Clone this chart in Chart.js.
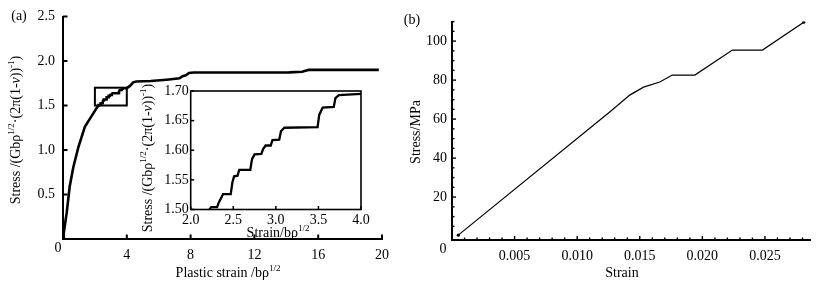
<!DOCTYPE html>
<html>
<head>
<meta charset="utf-8">
<script src="https://cdn.jsdelivr.net/npm/chart.js@4/dist/chart.umd.min.js"></script>
<style>
html,body{margin:0;padding:0;background:#fff;}
#wrap{position:relative;width:834px;height:281px;overflow:hidden;}
#wrap canvas{position:absolute;left:0;top:0;}
</style>
</head>
<body>
<div id="wrap">
<canvas id="cA" width="834" height="281"></canvas>
<canvas id="cI" width="834" height="281"></canvas>
<canvas id="cB" width="834" height="281"></canvas>
</div>
<script>
// ---------- DATA ----------
// Panel (a): stress vs plastic strain
const mainStrain = [0, 0.05, 0.12, 0.23, 0.42, 0.65, 0.96, 1.37, 1.79, 2.00, 2.10, 2.22, 2.24, 2.31, 2.33, 2.36, 2.38, 2.47, 2.49, 2.51, 2.55, 2.57, 2.70, 2.72, 2.75, 2.83, 2.85, 2.88, 2.94, 2.96, 3.04, 3.06, 3.10, 3.49, 3.51, 3.55, 3.68, 3.70, 3.74, 4.00, 4.20, 4.40, 4.60, 5.50, 6.50, 7.30, 7.50, 7.70, 7.90, 8.20, 14.2, 15.0, 15.2, 15.4, 19.8];
const mainStress = [0, 0.07, 0.16, 0.29, 0.59, 0.81, 1.03, 1.26, 1.38, 1.44, 1.47, 1.500, 1.504, 1.504, 1.512, 1.520, 1.526, 1.526, 1.546, 1.556, 1.557, 1.567, 1.567, 1.585, 1.593, 1.594, 1.602, 1.608, 1.608, 1.617, 1.618, 1.632, 1.638, 1.639, 1.660, 1.672, 1.673, 1.688, 1.693, 1.695, 1.72, 1.76, 1.77, 1.775, 1.79, 1.805, 1.83, 1.84, 1.865, 1.87, 1.872, 1.88, 1.89, 1.90, 1.90];
const aXTicks = [0, 4, 8, 12, 16, 20];
const aYTicks = [0, 0.5, 1.0, 1.5, 2.0, 2.5];
// inset zoom window (also drawn as the rectangle in the main plot)
const insetXRange = [2.0, 4.0];
const insetYRange = [1.50, 1.70];
const insetXTicks = [2.0, 2.5, 3.0, 3.5, 4.0];
const insetYTicks = [1.50, 1.55, 1.60, 1.65, 1.70];
// Panel (b): stress vs strain
const bStrain = [0.0005, 0.0126, 0.0142, 0.0153, 0.0166, 0.0176, 0.0194, 0.0224, 0.0248, 0.0281];
const bStress = [0.5, 63.6, 72.3, 76.4, 79.0, 82.6, 82.6, 95.4, 95.4, 109.7];
const bXTicks = [0.005, 0.010, 0.015, 0.020, 0.025];
const bYTicks = [20, 40, 60, 80, 100];
const bXRange = [0, 0.0286];
const bYRange = [-2, 110];
const bXMinorStep = 0.001;
const bYMinorStep = 5;

// ---------- HELPERS ----------
const FONT = "'Liberation Serif','Times New Roman',serif";
const FS = 14;
Chart.defaults.font.family = FONT;
Chart.defaults.font.size = FS;
Chart.defaults.color = '#000';

function fontFor(p, size){
  const s = p.sup ? Math.round(size*0.62) : size;
  return (p.it ? 'italic ' : '') + s + 'px ' + FONT;
}
function drawRich(ctx, parts, cx, cy, rot, size){
  ctx.save();
  ctx.translate(cx, cy);
  if (rot) ctx.rotate(-Math.PI/2);
  let w = 0;
  parts.forEach(p => { ctx.font = fontFor(p, size); w += ctx.measureText(p.t).width; });
  let x = -w/2;
  ctx.fillStyle = '#000';
  ctx.textBaseline = 'alphabetic';
  ctx.textAlign = 'left';
  parts.forEach(p => {
    ctx.font = fontFor(p, size);
    const y = p.sup ? size*0.35 - size*0.42 : size*0.35;
    ctx.fillText(p.t, x, y);
    x += ctx.measureText(p.t).width;
  });
  ctx.restore();
}
function line(ctx, x1, y1, x2, y2, w){
  ctx.beginPath(); ctx.lineWidth = w; ctx.strokeStyle = '#000';
  ctx.moveTo(x1, y1); ctx.lineTo(x2, y2); ctx.stroke();
}
const stressTitle = [
  {t:'Stress /(Gbρ'}, {t:'1/2', sup:true}, {t:'·(2π(1-'}, {t:'ν', it:true}, {t:'))'}, {t:'-1', sup:true}, {t:')'}
];

function tickOpts(pad){
  return {padding: pad, maxRotation: 0, autoSkip: false, color: '#000', font: {family: FONT, size: FS}};
}
function setTicks(arr){ return s => { s.ticks = arr.map(v => ({value: v})); }; }

// ---------- CHART (a) main ----------
new Chart(document.getElementById('cA'), {
  type: 'scatter',
  data: { datasets: [{
    data: mainStrain.map((x, i) => ({x, y: mainStress[i]})),
    showLine: true, borderColor: '#000', borderWidth: 2.6, pointRadius: 0, tension: 0, fill: false
  }]},
  options: {
    responsive: false, animation: false, devicePixelRatio: 1, events: [],
    layout: {padding: {left: 23, right: 452, top: 16.5, bottom: 12}},
    plugins: {legend: {display: false}, tooltip: {enabled: false}},
    scales: {
      x: {type: 'linear', min: aXTicks[0], max: aXTicks[aXTicks.length-1],
          afterBuildTicks: setTicks(aXTicks),
          ticks: Object.assign(tickOpts(8), {callback: v => v === 0 ? '' : String(v)}),
          grid: {display: false, drawTicks: false},
          border: {display: true, color: '#000', width: 2},
          afterFit: s => { s.height = 30; }},
      y: {type: 'linear', min: aYTicks[0], max: aYTicks[aYTicks.length-1],
          afterBuildTicks: setTicks(aYTicks),
          ticks: Object.assign(tickOpts(8), {callback: v => v === 0 ? '' : Number(v).toFixed(1)}),
          grid: {display: false, drawTicks: false},
          border: {display: true, color: '#000', width: 2},
          afterFit: s => { s.width = 40; }}
    }
  },
  plugins: [{
    id: 'decoA',
    afterDraw(chart){
      const ctx = chart.ctx, a = chart.chartArea, xs = chart.scales.x, ys = chart.scales.y;
      aXTicks.forEach(v => { if (v === 0) return; const px = xs.getPixelForValue(v); line(ctx, px, a.bottom, px, a.bottom - 4.5, 2); });
      aYTicks.forEach(v => { if (v === 0) return; const py = ys.getPixelForValue(v); line(ctx, a.left, py, a.left + 4.5, py, 2); });
      // zoom rectangle
      const x1 = xs.getPixelForValue(insetXRange[0]), x2 = xs.getPixelForValue(insetXRange[1]);
      const y1 = ys.getPixelForValue(insetYRange[1]), y2 = ys.getPixelForValue(insetYRange[0]);
      ctx.save(); ctx.lineWidth = 2; ctx.strokeStyle = '#000'; ctx.strokeRect(x1, y1, x2 - x1, y2 - y1); ctx.restore();
      // origin label, panel tag, titles
      ctx.save(); ctx.fillStyle = '#000'; ctx.font = FS + 'px ' + FONT; ctx.textAlign = 'center'; ctx.textBaseline = 'middle';
      ctx.fillText('0', 58, 248);
      ctx.fillText('(a)', 19, 16);
      ctx.restore();
      drawRich(ctx, stressTitle, 15, 130, true, FS);
      drawRich(ctx, [{t:'Plastic strain /bρ'}, {t:'1/2', sup:true}], 228, 272, false, FS);
    }
  }]
});

// ---------- CHART (a) inset ----------
new Chart(document.getElementById('cI'), {
  type: 'scatter',
  data: { datasets: [{
    data: mainStrain.map((x, i) => ({x, y: mainStress[i]})),
    showLine: true, borderColor: '#000', borderWidth: 2.3, pointRadius: 0, tension: 0, fill: false
  }]},
  options: {
    responsive: false, animation: false, devicePixelRatio: 1, events: [],
    layout: {padding: {left: 160.7, right: 473, top: 91, bottom: 51.5}},
    plugins: {legend: {display: false}, tooltip: {enabled: false}},
    scales: {
      x: {type: 'linear', min: insetXRange[0], max: insetXRange[1],
          afterBuildTicks: setTicks(insetXTicks),
          ticks: Object.assign(tickOpts(2), {callback: v => Number(v).toFixed(1)}),
          grid: {display: false, drawTicks: false},
          border: {display: false},
          afterFit: s => { s.height = 20; }},
      y: {type: 'linear', min: insetYRange[0], max: insetYRange[1],
          afterBuildTicks: setTicks(insetYTicks),
          ticks: Object.assign(tickOpts(2), {callback: v => Number(v).toFixed(2)}),
          grid: {display: false, drawTicks: false},
          border: {display: false},
          afterFit: s => { s.width = 30; }}
    }
  },
  plugins: [{
    id: 'decoI',
    afterDraw(chart){
      const ctx = chart.ctx, a = chart.chartArea, xs = chart.scales.x, ys = chart.scales.y;
      ctx.save(); ctx.lineWidth = 1.6; ctx.strokeStyle = '#000';
      ctx.strokeRect(a.left, a.top, a.right - a.left, a.bottom - a.top); ctx.restore();
      insetXTicks.forEach(v => { const px = xs.getPixelForValue(v); line(ctx, px, a.bottom, px, a.bottom - 3.5, 1.5); });
      insetYTicks.forEach(v => { const py = ys.getPixelForValue(v); line(ctx, a.left, py, a.left + 3.5, py, 1.5); });
      drawRich(ctx, stressTitle, 147, 158, true, FS);
      drawRich(ctx, [{t:'Strain/bρ'}, {t:'1/2', sup:true}], 278, 232, false, FS);
    }
  }]
});

// ---------- CHART (b) ----------
new Chart(document.getElementById('cB'), {
  type: 'scatter',
  data: { datasets: [{
    data: bStrain.map((x, i) => ({x, y: bStress[i]})),
    showLine: true, borderColor: '#000', borderWidth: 1.2, tension: 0, fill: false,
    pointRadius: c => (c.dataIndex === 0 || c.dataIndex === bStrain.length - 1) ? 1.6 : 0,
    pointBackgroundColor: '#000', pointBorderWidth: 0
  }]},
  options: {
    responsive: false, animation: false, devicePixelRatio: 1, events: [],
    layout: {padding: {left: 412, right: 24, top: 21.6, bottom: 11}},
    plugins: {legend: {display: false}, tooltip: {enabled: false}},
    scales: {
      x: {type: 'linear', min: bXRange[0], max: bXRange[1],
          afterBuildTicks: setTicks(bXTicks),
          ticks: Object.assign(tickOpts(8), {callback: v => Number(v).toFixed(3)}),
          grid: {display: false, drawTicks: false},
          border: {display: true, color: '#000', width: 2},
          afterFit: s => { s.height = 30; }},
      y: {type: 'linear', min: bYRange[0], max: bYRange[1],
          afterBuildTicks: setTicks(bYTicks),
          ticks: Object.assign(tickOpts(5), {callback: v => String(v)}),
          grid: {display: false, drawTicks: false},
          border: {display: true, color: '#000', width: 2},
          afterFit: s => { s.width = 40; }}
    }
  },
  plugins: [{
    id: 'decoB',
    afterDraw(chart){
      const ctx = chart.ctx, a = chart.chartArea, xs = chart.scales.x, ys = chart.scales.y;
      for (let k = 1; k * bXMinorStep <= bXRange[1] + 1e-9; k++) {
        const px = xs.getPixelForValue(k * bXMinorStep);
        line(ctx, px, a.bottom, px, a.bottom - (k % 5 === 0 ? 4 : 2.5), 1.4);
      }
      for (let k = 1; k * bYMinorStep <= bYRange[1] + 1e-9; k++) {
        const py = ys.getPixelForValue(k * bYMinorStep);
        line(ctx, a.left, py, a.left + (k % 4 === 0 ? 4 : 2.5), py, 1.4);
      }
      ctx.save(); ctx.fillStyle = '#000'; ctx.font = FS + 'px ' + FONT; ctx.textAlign = 'center'; ctx.textBaseline = 'middle';
      ctx.fillText('0', 443, 249);
      ctx.fillText('(b)', 412, 20);
      ctx.restore();
      drawRich(ctx, [{t:'Stress/MPa'}], 415, 132, true, FS);
      drawRich(ctx, [{t:'Strain'}], 622, 272, false, FS);
    }
  }]
});
</script>
</body>
</html>
